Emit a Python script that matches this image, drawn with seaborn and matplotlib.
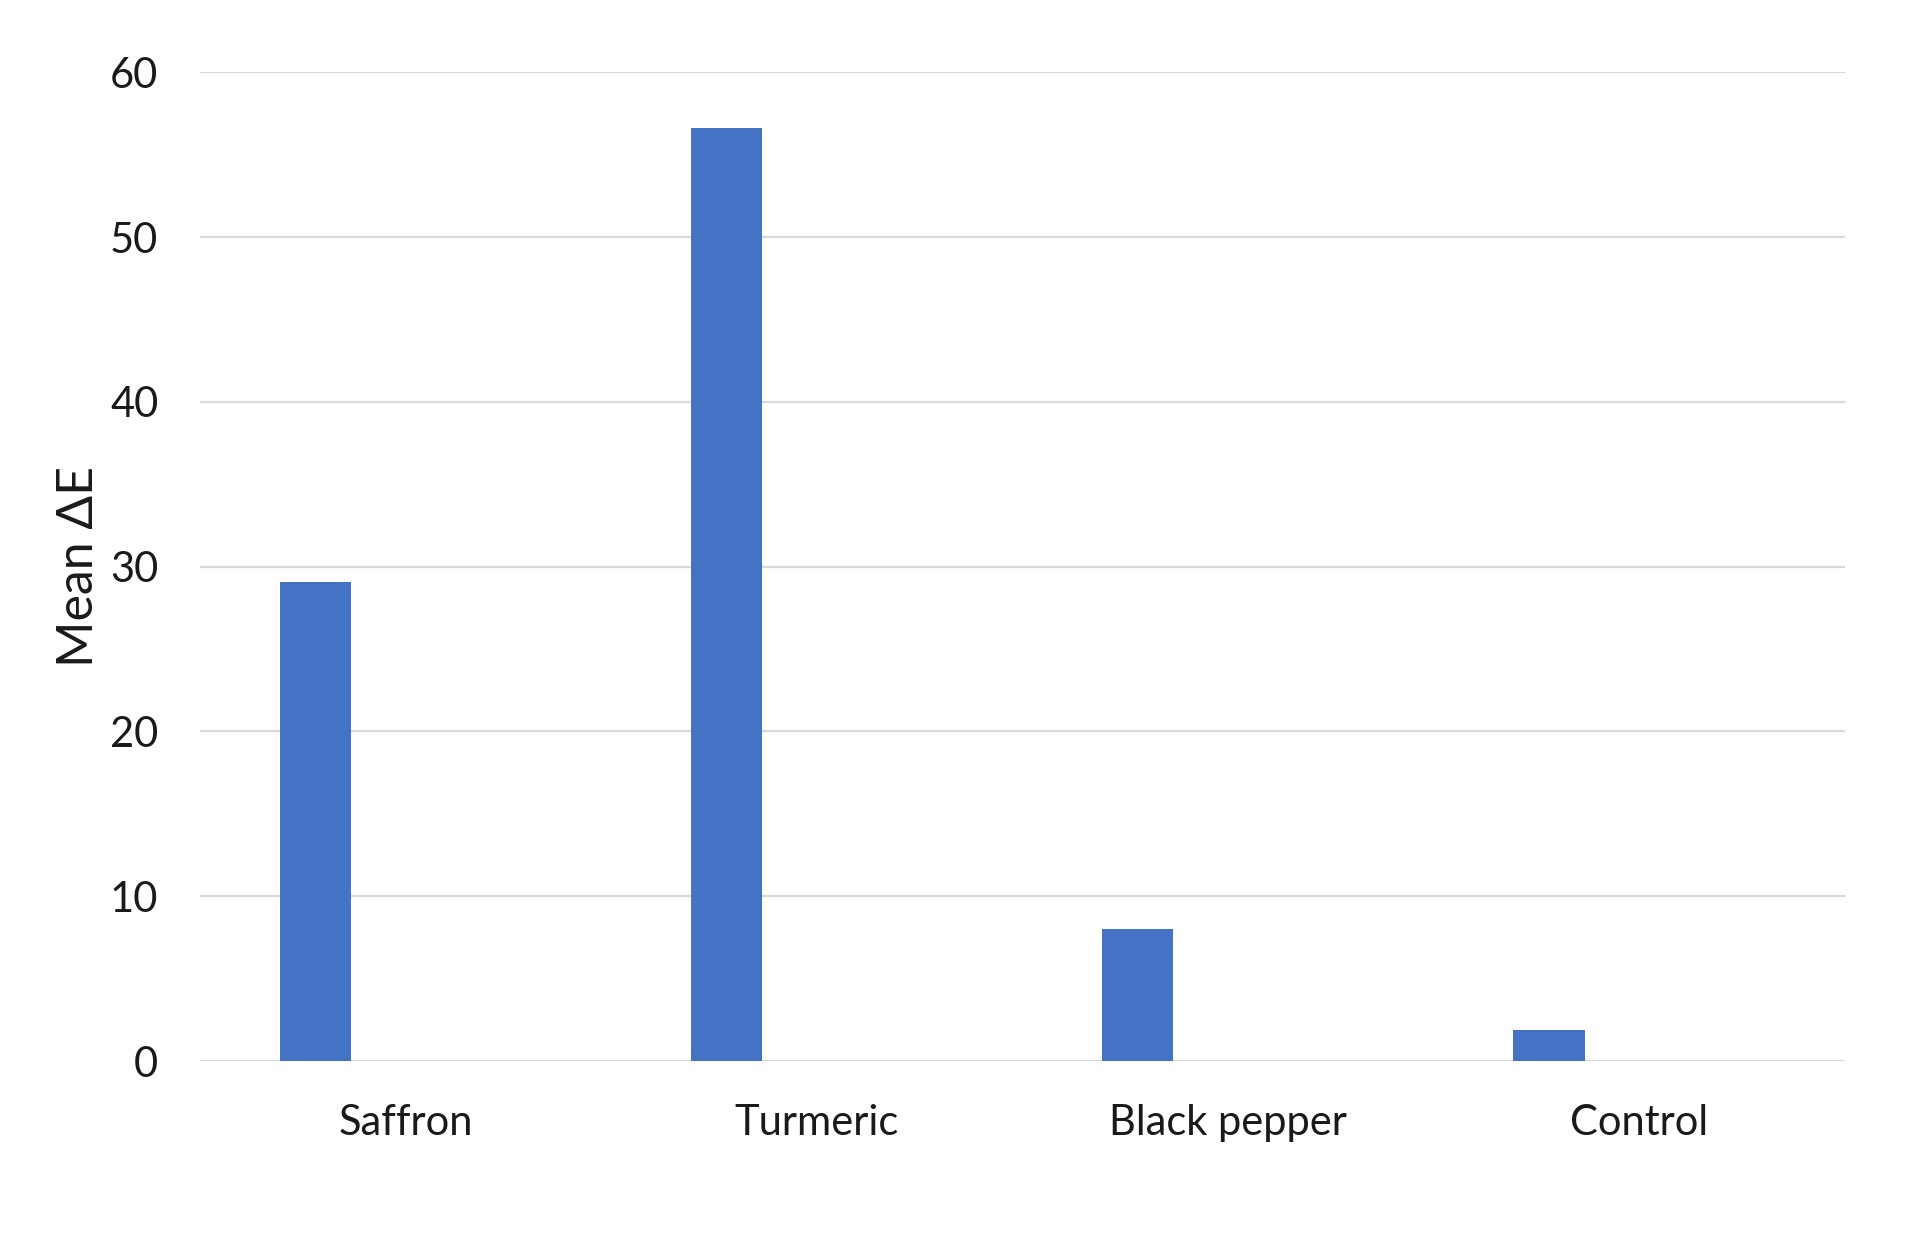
import pandas as pd
import matplotlib
matplotlib.use("Agg")
import matplotlib.pyplot as plt
import seaborn as sns

# Chart values
categories = ["Saffron", "Turmeric", "Black pepper", "Control"]
mean_delta_e = [29.1, 56.6, 8.0, 1.9]
y_ticks = [0, 10, 20, 30, 40, 50, 60]

# Excel-style layout: the single series sits in the left slot of two
series_order = ["Mean ΔE", "(empty)"]
df = pd.DataFrame({
    "category": categories,
    "value": mean_delta_e,
    "series": series_order[0],
})

sns.set_theme(style="white")
plt.rcParams["font.family"] = ["Lato", "DejaVu Sans"]

fig = plt.figure(figsize=(19.13, 12.54), dpi=100)
ax = fig.add_axes([0.1045, 0.1539, 0.86, 0.7884])

sns.barplot(data=df, x="category", y="value", hue="series",
            hue_order=series_order, palette=["#4472C4", "#4472C4"],
            width=0.88, gap=0.607, dodge=True, legend=False,
            saturation=1, linewidth=0, ax=ax)

ax.set_ylim(0, 60)
ax.set_yticks(y_ticks)
ax.set_xlim(-0.5, len(categories) - 0.5)
ax.yaxis.grid(True, color="#D9D9D9", linewidth=1.6)
ax.set_axisbelow(True)
for s in ax.spines.values():
    s.set_visible(False)

ax.tick_params(axis="y", length=0, pad=30, labelsize=30, labelcolor="#1a1a1a")
ax.tick_params(axis="x", length=0, pad=31, labelsize=30, labelcolor="#1a1a1a")
ax.set_xlabel("")
ax.set_ylabel("Mean ΔE", fontsize=36, color="#1a1a1a", labelpad=6)

fig.savefig("out.png", dpi=100)
